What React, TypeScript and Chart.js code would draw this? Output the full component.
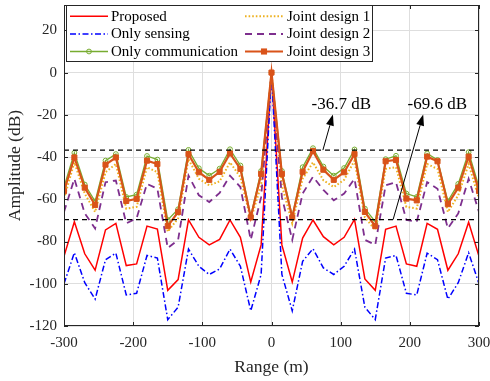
import React, { useEffect, useRef } from 'react';
import { Chart, registerables } from 'chart.js';

Chart.register(...registerables);

const ranges = [
  -300, -285, -270, -255, -240, -225, -210, -195, -180, -165, -150, -135, -120, -105, -90, -75, -60, -45, -30, -15,
  0, 15, 30, 45, 60, 75, 90, 105, 120, 135, 150, 165, 180, 195, 210, 225, 240, 255, 270, 285, 300,
];

const proposed = [
  -87, -70.6, -85.8, -93.6, -74.5, -71.4, -91.4, -90.6, -72.7, -74.1, -103.1, -98, -69.8, -78, -81.6, -79, -69.8, -78, -99.2, -81.6,
  0, -81.6, -99.2, -78.4, -69.8, -77.7, -81.6, -78, -69.5, -97.7, -103.1, -74.2, -72.7, -90.6, -91.7, -71.4, -74.2, -93.6, -85.8, -70.9, -87,
];

const onlySensing = [
  -100, -85.3, -99.5, -107.3, -88.6, -85.5, -105.3, -104.5, -86.6, -87.8, -117, -111.1, -83.6, -91.7, -95.6, -93, -83.6, -91.7, -112.8, -95.6,
  0, -95.6, -112.8, -89.4, -83.4, -92.5, -95.6, -91.7, -83.6, -111.1, -117, -87.8, -86.6, -104.5, -105.3, -85.5, -88.6, -107.3, -99.5, -85.3, -100,
];

const onlyComm = [
  -54.2, -38, -53, -61, -41.7, -38.6, -58.9, -57.8, -39.5, -41.2, -69.8, -64.7, -36.6, -45.3, -48.8, -45.5, -36.3, -44, -68, -46.6,
  0, -46.6, -68, -44.8, -35.8, -44.5, -48.8, -45.2, -36.4, -64.4, -70.6, -41, -39.4, -57.3, -58.9, -38.3, -41.4, -60.9, -52.7, -37.7, -54.2,
];

const joint1 = [
  -59.7, -42.5, -57.3, -66, -47.2, -43.3, -64.4, -63.6, -44.8, -47.2, -75.3, -69, -41, -50.3, -53.4, -51.5, -42.5, -49.5, -69.5, -53.4,
  0, -53.4, -71.4, -50.3, -42.5, -51, -54.2, -50.8, -41.7, -68.6, -74.5, -45.6, -44.8, -63.6, -64.4, -43.3, -45.6, -66, -58.1, -43.3, -59.7,
];

const joint2 = [
  -66, -50.3, -66.7, -73.8, -51.9, -51.1, -71.4, -69, -52.7, -55, -83.1, -79.2, -48.8, -58.1, -61.3, -57, -48.8, -54.2, -79.2, -59,
  0, -59, -79.2, -57.3, -49.3, -55.6, -60.5, -57.3, -50.3, -79.2, -81.6, -53.4, -51.9, -69.8, -70.6, -51.9, -55, -73.8, -66.7, -50.3, -66,
];

const joint3 = [
  -56.1, -40.2, -54.5, -62.7, -43.6, -40.2, -60.8, -59.8, -41.7, -43.3, -72.7, -66, -38.6, -47.2, -50.8, -47, -38.3, -45.6, -68.6, -48,
  0, -48, -68.6, -47, -37.2, -46, -50.8, -47.2, -38.6, -66, -72.7, -42, -41.4, -59.7, -60.5, -39.8, -42, -62.3, -54.5, -39.8, -56.1,
];

const seriesLabels = ['Proposed', 'Only sensing', 'Only communication', 'Joint design 1', 'Joint design 2', 'Joint design 3'];

const xTicks = [-300, -200, -100, 0, 100, 200, 300];
const yTicks = [-120, -100, -80, -60, -40, -20, 0, 20];

const refLevels = [-36.7, -69.6];
const refLabels = ['-36.7 dB', '-69.6 dB'];
// annotation anchors in data units: text centre, arrow tip, arrow tail x (tail y is the reference level)
const textX = [101, 239.6];
const textY = -15.1;
const tipX = [88.8, 219.3];
const tipY = -19.9;
const tailX = [74.3, 175.8];

const FONT = '"Liberation Serif", "Times New Roman", serif';
const AXIS_COLOR = '#262626';

type Style = {
  color: string;
  dash: number[];
  width: number;
  marker: null | 'circle' | 'rect';
  radius: number;
  fill: string;
};

const styles: Style[] = [
  { color: '#FF0000', dash: [], width: 1.5, marker: null, radius: 0, fill: '#FF0000' },
  { color: '#0000FF', dash: [6, 2.5, 1.5, 2.5], width: 1.5, marker: null, radius: 0, fill: '#0000FF' },
  { color: '#77AC30', dash: [], width: 1.3, marker: 'circle', radius: 2.4, fill: 'rgba(255,255,255,0)' },
  { color: '#EDB120', dash: [1.6, 2], width: 2, marker: null, radius: 0, fill: '#EDB120' },
  { color: '#7E2F8E', dash: [7, 5], width: 1.8, marker: null, radius: 0, fill: '#7E2F8E' },
  { color: '#D95319', dash: [], width: 2.2, marker: 'rect', radius: 3.6, fill: '#D95319' },
];

const seriesValues = [proposed, onlySensing, onlyComm, joint1, joint2, joint3];

function drawMarker(ctx: CanvasRenderingContext2D, st: Style, x: number, y: number) {
  if (!st.marker) return;
  ctx.save();
  ctx.setLineDash([]);
  ctx.lineWidth = 1;
  ctx.strokeStyle = st.color;
  ctx.fillStyle = st.fill;
  if (st.marker === 'circle') {
    ctx.beginPath();
    ctx.arc(x, y, st.radius, 0, Math.PI * 2);
    ctx.stroke();
  } else {
    const s = st.radius * Math.SQRT1_2;
    ctx.fillRect(x - s, y - s, 2 * s, 2 * s);
    ctx.strokeRect(x - s, y - s, 2 * s, 2 * s);
  }
  ctx.restore();
}

const overlayPlugin = {
  id: 'overlay',
  afterDraw(chart: any) {
    const { ctx, chartArea: a } = chart;
    const xs = chart.scales.x;
    const ys = chart.scales.y;
    ctx.save();

    // axes box & inward ticks
    ctx.strokeStyle = AXIS_COLOR;
    ctx.lineWidth = 1;
    ctx.setLineDash([]);
    ctx.beginPath();
    for (const t of xTicks) {
      const px = Math.round(xs.getPixelForValue(t)) + 0.5;
      ctx.moveTo(px, a.bottom);
      ctx.lineTo(px, a.bottom - 4);
      ctx.moveTo(px, a.top);
      ctx.lineTo(px, a.top + 4);
    }
    for (const t of yTicks) {
      const py = Math.round(ys.getPixelForValue(t)) + 0.5;
      ctx.moveTo(a.left, py);
      ctx.lineTo(a.left + 4, py);
      ctx.moveTo(a.right, py);
      ctx.lineTo(a.right - 4, py);
    }
    ctx.stroke();
    ctx.strokeRect(a.left + 0.5, a.top + 0.5, a.right - a.left - 1, a.bottom - a.top - 1);

    // annotations
    ctx.fillStyle = '#000';
    ctx.strokeStyle = '#000';
    ctx.font = `17px ${FONT}`;
    ctx.textAlign = 'center';
    ctx.textBaseline = 'middle';
    for (let i = 0; i < refLabels.length; i++) {
      ctx.fillText(refLabels[i], xs.getPixelForValue(textX[i]), ys.getPixelForValue(textY));
      const x1 = xs.getPixelForValue(tailX[i]);
      const y1 = ys.getPixelForValue(refLevels[i]);
      const x2 = xs.getPixelForValue(tipX[i]);
      const y2 = ys.getPixelForValue(tipY);
      const ang = Math.atan2(y2 - y1, x2 - x1);
      const hl = 11;
      const hw = 4;
      const bx = x2 - hl * Math.cos(ang);
      const by = y2 - hl * Math.sin(ang);
      ctx.lineWidth = 1;
      ctx.beginPath();
      ctx.moveTo(x1, y1);
      ctx.lineTo(bx, by);
      ctx.stroke();
      ctx.beginPath();
      ctx.moveTo(x2, y2);
      ctx.lineTo(bx + hw * Math.sin(ang), by - hw * Math.cos(ang));
      ctx.lineTo(bx - hw * Math.sin(ang), by + hw * Math.cos(ang));
      ctx.closePath();
      ctx.fill();
    }

    // legend
    const bx0 = 66.5;
    const by0 = 5.5;
    const bw = 306;
    const bh = 56;
    ctx.fillStyle = '#FFFFFF';
    ctx.fillRect(bx0, by0, bw, bh);
    ctx.strokeStyle = AXIS_COLOR;
    ctx.lineWidth = 1;
    ctx.strokeRect(bx0, by0, bw, bh);
    const rowsY = [16.3, 34, 51.5];
    const cols = [
      { l0: 70, l1: 108, tx: 111 },
      { l0: 245, l1: 283, tx: 287 },
    ];
    ctx.font = `15px ${FONT}`;
    ctx.textAlign = 'left';
    ctx.textBaseline = 'middle';
    for (let i = 0; i < seriesLabels.length; i++) {
      const c = cols[Math.floor(i / 3)];
      const ry = rowsY[i % 3];
      const st = styles[i];
      ctx.save();
      ctx.strokeStyle = st.color;
      ctx.lineWidth = st.width;
      ctx.setLineDash(st.dash);
      ctx.beginPath();
      ctx.moveTo(c.l0, ry);
      ctx.lineTo(c.l1, ry);
      ctx.stroke();
      ctx.restore();
      drawMarker(ctx, st, (c.l0 + c.l1) / 2, ry);
      ctx.fillStyle = '#000';
      ctx.fillText(seriesLabels[i], c.tx, ry + 0.5);
    }
    ctx.restore();
  },
};

export default function App() {
  const ref = useRef<HTMLCanvasElement | null>(null);

  useEffect(() => {
    document.body.style.margin = '0';
    document.body.style.overflow = 'hidden';
    const canvas = ref.current;
    if (!canvas) return;

    const datasets: any[] = seriesValues.map((vals, i) => {
      const st = styles[i];
      return {
        label: seriesLabels[i],
        data: ranges.map((r, k) => ({ x: r, y: vals[k] })),
        borderColor: st.color,
        backgroundColor: st.fill,
        borderWidth: st.width,
        borderDash: st.dash,
        pointRadius: st.marker ? st.radius : 0,
        pointStyle: st.marker || 'circle',
        pointBorderColor: st.color,
        pointBackgroundColor: st.fill,
        pointBorderWidth: 1,
        tension: 0,
        fill: false,
        order: 10 - i,
      };
    });

    refLevels.forEach((lv) => {
      datasets.push({
        label: 'ref',
        data: [
          { x: xTicks[0], y: lv },
          { x: xTicks[xTicks.length - 1], y: lv },
        ],
        borderColor: '#000',
        borderWidth: 1.2,
        borderDash: [5, 4],
        pointRadius: 0,
        fill: false,
        order: -1,
      });
    });

    const chart = new Chart(canvas, {
      type: 'line',
      data: { datasets },
      options: {
        animation: false,
        responsive: false,
        devicePixelRatio: 1,
        layout: { padding: { top: 3, right: 11, left: 0, bottom: 0 } },
        plugins: {
          legend: { display: false },
          tooltip: { enabled: false },
        },
        scales: {
          x: {
            type: 'linear',
            min: -300,
            max: 300,
            afterBuildTicks: (s: any) => {
              s.ticks = xTicks.map((v) => ({ value: v }));
            },
            afterFit: (s: any) => {
              s.height = 55;
              s.paddingLeft = 0;
              s.paddingRight = 0;
            },
            grid: { color: '#DEDEDE', lineWidth: 1, drawTicks: false },
            border: { display: false },
            ticks: {
              padding: 8,
              color: AXIS_COLOR,
              font: { family: FONT, size: 15 },
              maxRotation: 0,
              autoSkip: false,
            },
            title: {
              display: true,
              text: 'Range (m)',
              color: AXIS_COLOR,
              font: { family: FONT, size: 17.5 },
              padding: { top: 0, bottom: 3.5 },
            },
          },
          y: {
            type: 'linear',
            min: -120,
            max: 32,
            afterBuildTicks: (s: any) => {
              s.ticks = yTicks.map((v) => ({ value: v }));
            },
            afterFit: (s: any) => {
              s.width = 64;
              s.paddingTop = 0;
              s.paddingBottom = 0;
            },
            grid: { color: '#DEDEDE', lineWidth: 1, drawTicks: false },
            border: { display: false },
            ticks: {
              padding: 7,
              color: AXIS_COLOR,
              font: { family: FONT, size: 15 },
              autoSkip: false,
            },
            title: {
              display: true,
              text: 'Amplitude (dB)',
              color: AXIS_COLOR,
              font: { family: FONT, size: 17.5 },
              padding: { top: 4.5, bottom: 0 },
            },
          },
        },
      },
      plugins: [overlayPlugin],
    });

    return () => chart.destroy();
  }, []);

  return <canvas ref={ref} width={490} height={381} style={{ display: 'block' }} />;
}
